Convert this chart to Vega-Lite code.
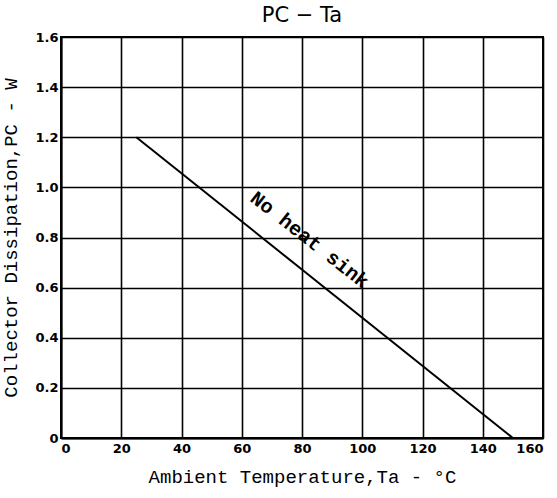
{
  "$schema": "https://vega.github.io/schema/vega-lite/v6.json",
  "width": 482,
  "height": 401,
  "autosize": {"type": "none"},
  "padding": {"left": 61, "top": 37, "right": 14, "bottom": 60},
  "background": "white",
  "title": {"text": "PC  −  Ta", "font": "DejaVu Sans", "fontSize": 21, "fontWeight": "normal", "color": "black", "offset": 5, "anchor": "middle"},
  "config": {
    "view": {"stroke": "black", "strokeWidth": 2},
    "axis": {
      "grid": true, "gridColor": "black", "gridWidth": 1.6, "gridOpacity": 1,
      "domain": true, "domainColor": "black", "domainWidth": 2,
      "ticks": false,
      "labelFont": "DejaVu Sans", "labelFontSize": 13, "labelFontWeight": "bold", "labelColor": "black",
      "titleFont": "Liberation Mono", "titleFontSize": 19, "titleFontWeight": "normal", "titleColor": "black"
    }
  },
  "datasets": {
    "curve": [
      {"ta": 25, "pc": 1.2},
      {"ta": 150, "pc": 0}
    ],
    "label": [
      {"ta": 82.5, "pc": 0.79, "text": "No heat sink"}
    ]
  },
  "layer": [
    {
      "data": {"name": "curve"},
      "mark": {"type": "line", "color": "black", "strokeWidth": 2},
      "encoding": {
        "x": {"field": "ta", "type": "quantitative", "scale": {"domain": [0, 160], "nice": false},
              "axis": {"values": [0, 20, 40, 60, 80, 100, 120, 140, 160], "title": "Ambient Temperature,Ta - °C", "labelPadding": 4, "titlePadding": 12}},
        "y": {"field": "pc", "type": "quantitative", "scale": {"domain": [0, 1.6], "nice": false},
              "axis": {"values": [0, 0.2, 0.4, 0.6, 0.8, 1.0, 1.2, 1.4, 1.6], "title": "Collector Dissipation,PC - W", "labelPadding": 3, "titlePadding": 14,
                       "labelExpr": "datum.value == 0 ? '0' : format(datum.value, '.1f')"}}
      }
    },
    {
      "data": {"name": "label"},
      "mark": {"type": "text", "font": "Liberation Mono", "fontSize": 20, "fontWeight": "bold", "angle": 38, "color": "black", "align": "center", "baseline": "middle"},
      "encoding": {
        "x": {"field": "ta", "type": "quantitative"},
        "y": {"field": "pc", "type": "quantitative"},
        "text": {"field": "text"}
      }
    }
  ]
}
